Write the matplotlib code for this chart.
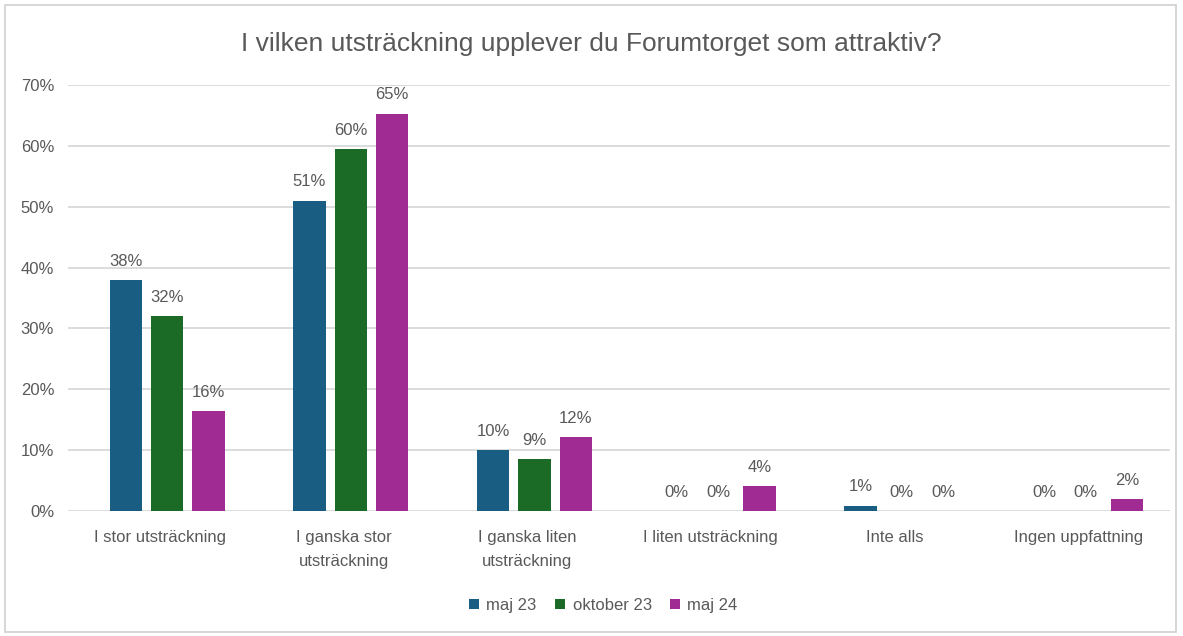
import numpy as np
import matplotlib
matplotlib.use("Agg")
import matplotlib.pyplot as plt
from matplotlib.patches import Rectangle

plt.rcParams['font.family'] = ['Liberation Sans', 'DejaVu Sans']

categories = ["I stor utsträckning", "I ganska stor\nutsträckning", "I ganska liten\nutsträckning",
              "I liten utsträckning", "Inte alls", "Ingen uppfattning"]
series_names = ["maj 23", "oktober 23", "maj 24"]
maj23 = [38.0, 51.0, 10.0, 0.0, 0.9, 0.0]
okt23 = [32.0, 59.5, 8.6, 0.0, 0.0, 0.0]
maj24 = [16.4, 65.3, 12.2, 4.1, 0.0, 2.0]
colors = ["#195e82", "#1b6b27", "#a02b93"]

txt = "#595959"
fig = plt.figure(figsize=(11.83, 6.36), dpi=100)
ax = fig.add_axes([0.0575, 0.1965, 0.9315, 0.67])

x = np.arange(len(categories))
width = 0.175
step = 0.225
for i, (vals, name, col) in enumerate(zip([maj23, okt23, maj24], series_names, colors)):
    pos = x + (i - 1) * step + 0.04
    bars = ax.bar(pos, vals, width, color=col, label=name, zorder=3)
    for b, v in zip(bars, vals):
        ax.annotate(f"{v:.0f}%", (b.get_x() + b.get_width() / 2, v),
                    xytext=(0, 8), textcoords="offset points",
                    ha="center", va="bottom", fontsize=12, color=txt)

ax.set_xlim(-0.5, len(categories) - 0.5)
ax.set_ylim(0, 70)
ax.set_yticks(range(0, 71, 10))
ax.set_yticklabels([f"{t}%" for t in range(0, 71, 10)], fontsize=12, color=txt)
ax.set_xticks(x)
ax.set_xticklabels(categories, fontsize=12, color=txt, linespacing=1.75)
ax.tick_params(axis='both', length=0)
ax.tick_params(axis='x', pad=14)
ax.tick_params(axis='y', pad=10)
ax.grid(axis='y', color="#d9d9d9", linewidth=1.3, zorder=0)
for s in ax.spines.values():
    s.set_visible(False)

fig.suptitle("I vilken utsträckning upplever du Forumtorget som attraktiv?",
             fontsize=19, color=txt, y=0.95)

ax.legend(loc="center", bbox_to_anchor=(0.51, 0.048), bbox_transform=fig.transFigure,
          ncol=3, frameon=False, fontsize=12, handlelength=0.6, handleheight=0.6,
          handletextpad=0.45, columnspacing=1.1, labelcolor=txt)

fig.patches.append(Rectangle((0.004, 0.006), 0.99, 0.986, transform=fig.transFigure,
                             fill=False, edgecolor="#d0d0d0", linewidth=1.2))

fig.savefig("out.png", dpi=100)
